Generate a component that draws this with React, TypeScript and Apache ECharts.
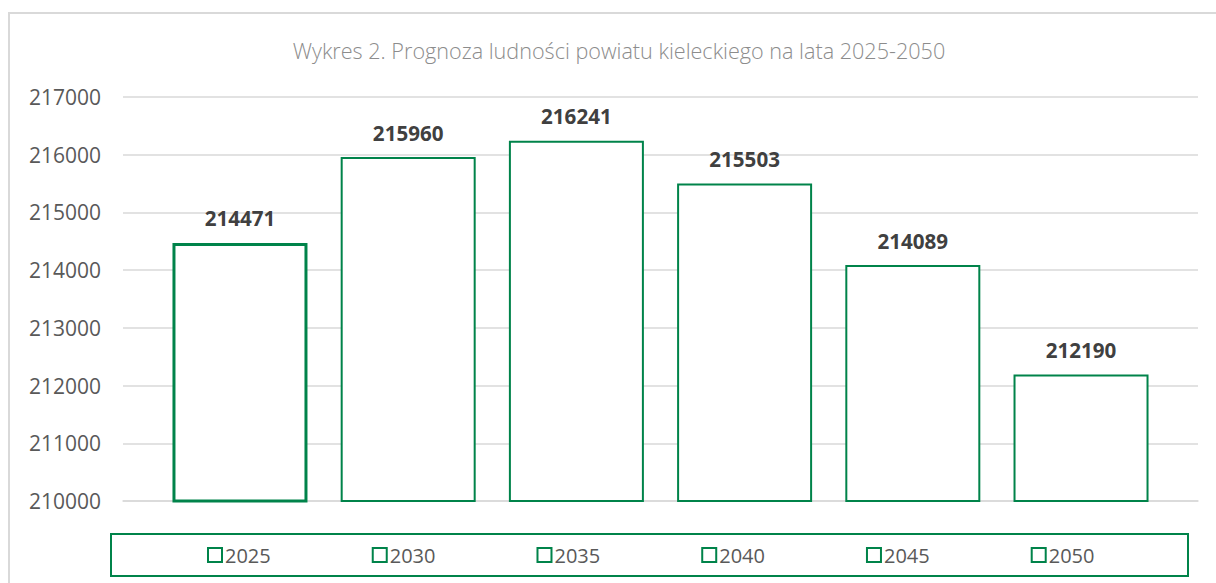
import React, { useEffect, useRef } from "react";
import * as echarts from "echarts";

const TITLE = "Wykres 2. Prognoza ludności powiatu kieleckiego na lata 2025-2050";
const YEARS = ["2025", "2030", "2035", "2040", "2045", "2050"];
const VALUES = [214471, 215960, 216241, 215503, 214089, 212190];
const CATEGORIES = [""];
const Y_MIN = 210000;
const Y_MAX = 217000;
const Y_INTERVAL = 1000;

const GREEN = "#00834a";
const FONT = "'Open Sans', 'Noto Sans', sans-serif";

export default function App() {
  const ref = useRef<HTMLDivElement>(null);
  useEffect(() => {
    if (!ref.current) return;
    const chart = echarts.init(ref.current, null, { renderer: "svg" });
    const series = YEARS.map((y, i) => ({
      name: y,
      type: "bar",
      data: [VALUES[i]],
      barWidth: 135,
      barGap: "24.6%",
      itemStyle: {
        color: "#ffffff",
        borderColor: GREEN,
        borderWidth: i === 0 ? 3 : 2,
      },
      label: {
        show: true,
        position: "top",
        distance: 14,
        fontFamily: FONT,
        fontSize: 20.6,
        fontWeight: "bold",
        color: "#404040",
      },
    }));
    chart.setOption({
      animation: false,
      backgroundColor: "#ffffff",
      title: {
        text: TITLE,
        left: 614,
        top: 34,
        textAlign: "center",
        textStyle: {
          fontFamily: FONT,
          fontSize: 21.6,
          fontWeight: 300,
          color: "#8c8c8c",
        },
      },
      graphic: [
        {
          type: "rect",
          shape: { x: 9, y: 13, width: 1300, height: 700 },
          style: { fill: "none", stroke: "#d9d9d9", lineWidth: 2 },
          silent: true,
        },
        {
          type: "rect",
          shape: { x: 111, y: 534, width: 1077, height: 42 },
          style: { fill: "none", stroke: GREEN, lineWidth: 2 },
          silent: true,
        },
      ],
      legend: {
        data: YEARS,
        left: 202,
        top: 540,
        itemWidth: 14,
        itemHeight: 14,
        itemGap: 101,
        icon: "rect",
        textStyle: { fontFamily: FONT, fontSize: 20, color: "#595959", padding: [0, 0, 0, -2] },
      },
      grid: { left: 123, right: 18, top: 97, bottom: 82, containLabel: false },
      xAxis: {
        type: "category",
        data: CATEGORIES,
        axisLine: { lineStyle: { color: "#d9d9d9", width: 1.5 } },
        axisTick: { show: false },
        axisLabel: { show: false },
      },
      yAxis: {
        type: "value",
        min: Y_MIN,
        max: Y_MAX,
        interval: Y_INTERVAL,
        axisLine: { show: false },
        axisTick: { show: false },
        axisLabel: {
          fontFamily: FONT,
          fontSize: 21,
          color: "#595959",
          margin: 22,
          formatter: (v: number) => String(v),
        },
        splitLine: { lineStyle: { color: "#d9d9d9", width: 1.5 } },
      },
      series,
    });
    return () => chart.dispose();
  }, []);
  return (
    <div
      ref={ref}
      style={{ position: "fixed", left: 0, top: 0, width: 1216, height: 583, background: "#fff" }}
    />
  );
}
